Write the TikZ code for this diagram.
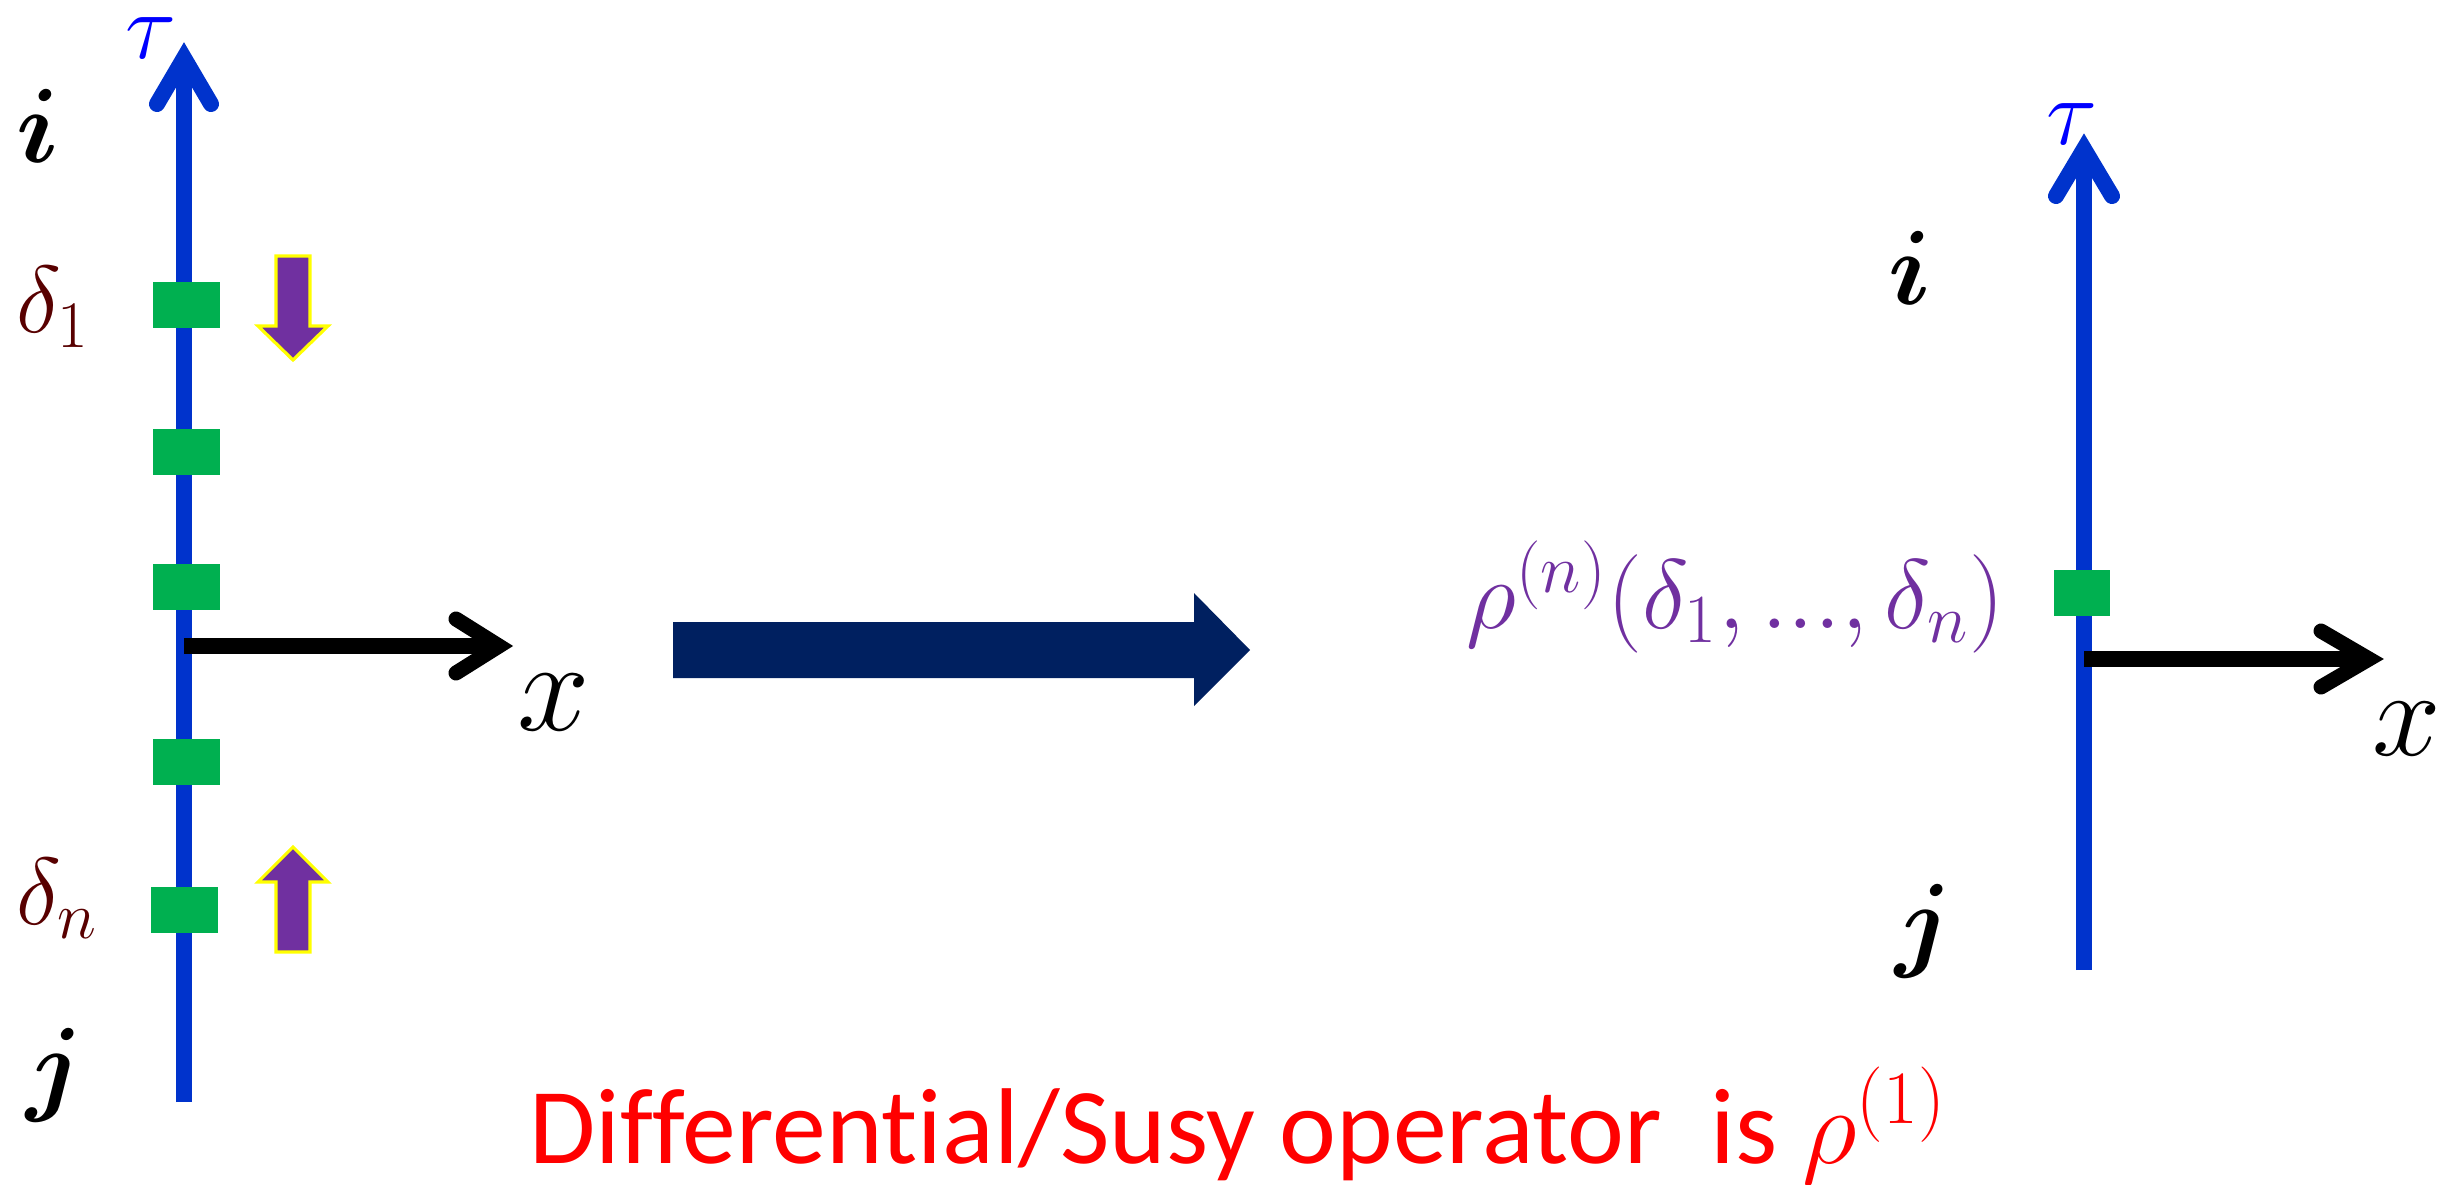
\RequirePackage{fix-cm}
\documentclass[tikz,border=0pt]{standalone}
\usepackage{graphicx}
\usepackage{bm}
\usepackage{fontspec}
\newfontfamily\carlito[Ligatures=NoCommon]{Carlito}
\definecolor{axisblue}{RGB}{0,51,204}
\definecolor{taublue}{RGB}{0,0,255}
\definecolor{sqgreen}{RGB}{0,176,80}
\definecolor{oppurple}{RGB}{112,48,160}
\definecolor{opyellow}{RGB}{255,255,0}
\definecolor{navy}{RGB}{0,32,96}
\definecolor{dred}{RGB}{88,0,0}
\definecolor{redtxt}{RGB}{255,0,0}
\begin{document}
\begin{tikzpicture}[x=0.01cm,y=-0.01cm,
  txt/.style={inner sep=0pt, anchor=base west},
  blueline/.style={draw=axisblue, line width=0.16cm},
  bluebarb/.style={draw=axisblue, line width=0.16cm, line cap=round, line join=miter},
  blackline/.style={draw=black, line width=0.15cm},
  blackbarb/.style={draw=black, line width=0.15cm, line cap=round, line join=miter},
  sq/.style={fill=sqgreen, inner sep=0pt, minimum width=0.67cm, minimum height=0.46cm},
  blockarrow/.style={fill=oppurple, draw=opyellow, line width=0.9pt, line join=miter},
  ilabel/.style={txt, font=\fontsize{30}{36}\selectfont},
  dlabel/.style={txt, text=dred, font=\fontsize{27}{32}\selectfont},
  taulabel/.style={txt, text=taublue, font=\fontsize{27}{32}\selectfont},
  xlabel/.style={txt, font=\fontsize{37}{44}\selectfont}]
\useasboundingbox (0,0) rectangle (2441,1185);

% ---------- left diagram ----------
\coordinate (Lbot) at (184,1102);
\coordinate (Ltop) at (184,58);
\coordinate (Lb1) at (157,104);
\coordinate (Lb2) at (211,104);
\draw[blueline] (Lbot) -- (Ltop);
\draw[bluebarb] (Lb1) -- (Ltop) -- (Lb2);

\node[sq] (s1) at (186.5,305) {};
\node[sq] (s2) at (186.5,452) {};
\node[sq] (s3) at (186.5,587) {};
\node[sq] (s4) at (186.5,762) {};
\node[sq] (s5) at (184.5,910) {};

\coordinate (Lx0) at (184,646);
\coordinate (Lxt) at (499,646);
\coordinate (Lxb1) at (456,619);
\coordinate (Lxb2) at (456,673);
\draw[blackline] (Lx0) -- (Lxt);
\draw[blackbarb] (Lxb1) -- (Lxt) -- (Lxb2);

\draw[blockarrow] (276,256) -- (310,256) -- (310,326) -- (328,326) -- (293,360) -- (258,326) -- (276,326) -- cycle;
\draw[blockarrow] (293,847) -- (328,882) -- (310,882) -- (310,952) -- (276,952) -- (276,882) -- (258,882) -- cycle;

\node[taulabel] (tauL) at (125,59) {$\tau$};
\node[ilabel] (iL) at (16,163) {$\bm{i}$};
\node[ilabel] (jL) at (26,1101) {$\bm{j}$};
\node[dlabel] (d1) at (16,333) {$\delta_1$};
\node[dlabel] (dn) at (16,924) {$\delta_n$};
\node[xlabel] (xL) at (517,730) {$x$};

% ---------- big arrow ----------
\fill[navy] (673,622) -- (1194,622) -- (1194,593) -- (1250,650) -- (1194,706) -- (1194,678) -- (673,678) -- cycle;

% ---------- right diagram ----------
\coordinate (Rbot) at (2084,970);
\coordinate (Rtop) at (2084,149);
\coordinate (Rb1) at (2056,196);
\coordinate (Rb2) at (2112,196);
\draw[blueline] (Rbot) -- (Rtop);
\draw[bluebarb] (Rb1) -- (Rtop) -- (Rb2);

\node[sq, minimum width=0.56cm, minimum height=0.45cm] (sR) at (2082,593) {};

\coordinate (Rx0) at (2084,659);
\coordinate (Rxt) at (2369,659);
\coordinate (Rxb1) at (2321,631);
\coordinate (Rxb2) at (2321,687);
\draw[blackline] (Rx0) -- (Rxt);
\draw[blackbarb] (Rxb1) -- (Rxt) -- (Rxb2);

\node[taulabel] (tauR) at (2046,145) {$\tau$};
\node[ilabel] (iR) at (1888,305) {$\bm{i}$};
\node[ilabel] (jR) at (1895,957) {$\bm{j}$};
\node[xlabel, font=\fontsize{35}{42}\selectfont] (xR) at (2372,755) {$x$};

\node[txt, text=oppurple, font=\fontsize{28}{33}\selectfont] (rho) at (1466,628) {$\rho^{(n)}(\delta_1,...,\delta_n)$};

% ---------- caption ----------
\node[txt, text=redtxt, font=\carlito\fontsize{30}{36}\selectfont] (cap) at (529,1163) {\resizebox{14.16cm}{!}{Differential/Susy operator~~is $\rho^{(1)}$}};
\end{tikzpicture}
\end{document}
